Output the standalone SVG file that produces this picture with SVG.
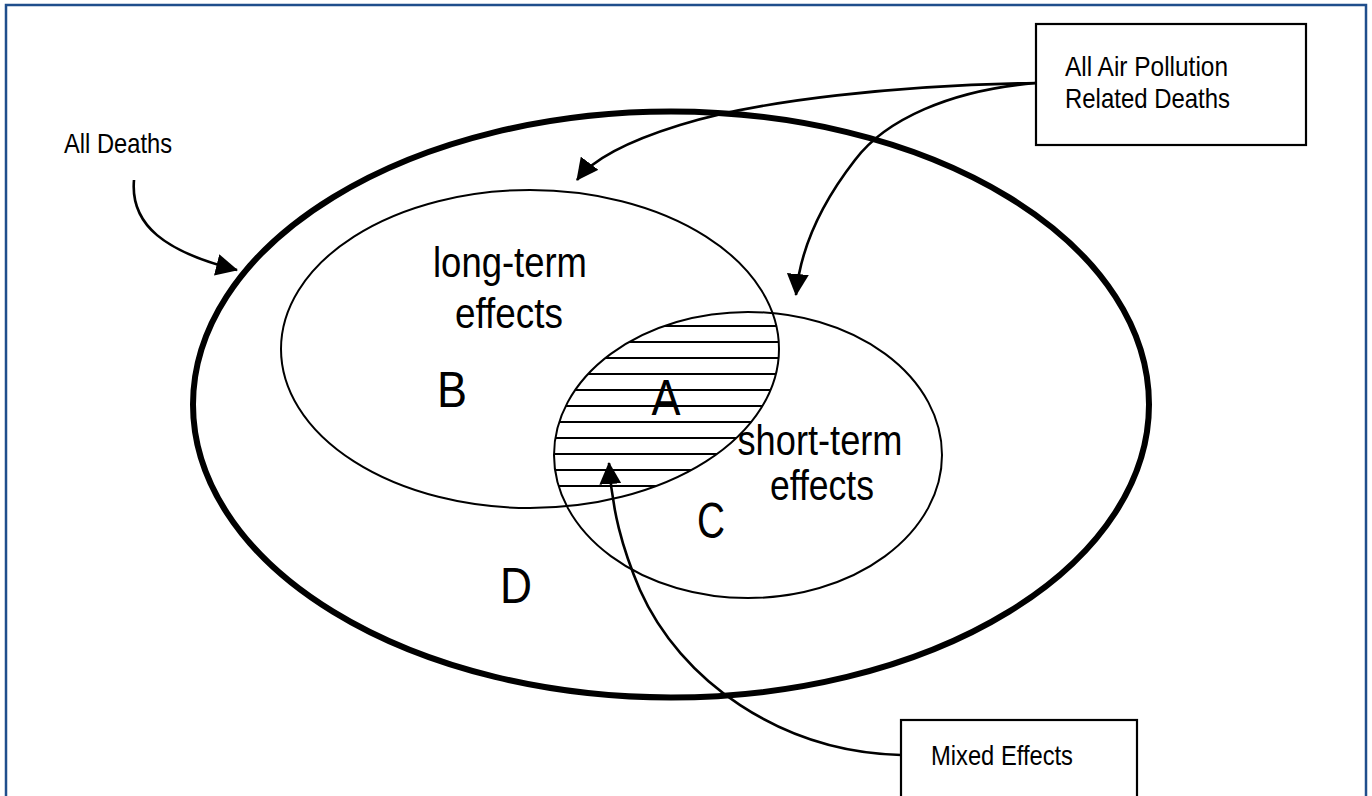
<svg xmlns="http://www.w3.org/2000/svg" width="1372" height="796" viewBox="0 0 1372 796">
  <style>
    .txt { font-family: "Liberation Sans", Arial, sans-serif; fill: #000; }
    .big { font-size: 43px; text-anchor: middle; }
    .let { font-size: 50px; text-anchor: middle; }
    .small { font-size: 28px; }
    .thin { fill: none; stroke: #000; stroke-width: 2; }
    .conn { fill: none; stroke: #000; stroke-width: 2.6; }
    .hatch line { stroke: #000; stroke-width: 2.2; }
    .box { fill: #fff; stroke: #000; stroke-width: 2.2; }
  </style>
  <defs>
    <marker id="arrow" viewBox="0 0 22 22" refX="21" refY="11" markerWidth="22" markerHeight="22" markerUnits="userSpaceOnUse" orient="auto">
      <path d="M0,0 L22,11 L0,22 Z" fill="#000"/>
    </marker>
    <clipPath id="clipL"><ellipse cx="530" cy="349" rx="249" ry="159"/></clipPath>
    <clipPath id="clipS"><ellipse cx="748" cy="455" rx="194" ry="143"/></clipPath>
  </defs>
  <rect x="0" y="0" width="1372" height="796" fill="#fff"/>
  <rect x="6" y="5" width="1360" height="810" fill="none" stroke="#1f4e8c" stroke-width="2.5"/>

  <g id="all-deaths">
    <ellipse cx="671" cy="404.5" rx="478" ry="293" fill="none" stroke="#000" stroke-width="6"/>
    <text class="txt small" x="64" y="153" textLength="108" lengthAdjust="spacingAndGlyphs">All Deaths</text>
    <text class="txt let" x="516" y="603" textLength="32" lengthAdjust="spacingAndGlyphs">D</text>
  </g>

  <g id="mixed-hatch" class="hatch" clip-path="url(#clipL)">
    <g clip-path="url(#clipS)">
      <line x1="540" y1="326" x2="800" y2="326"/>
      <line x1="540" y1="342" x2="800" y2="342"/>
      <line x1="540" y1="358" x2="800" y2="358"/>
      <line x1="540" y1="374" x2="800" y2="374"/>
      <line x1="540" y1="390" x2="800" y2="390"/>
      <line x1="540" y1="406" x2="800" y2="406"/>
      <line x1="540" y1="422" x2="800" y2="422"/>
      <line x1="540" y1="438" x2="800" y2="438"/>
      <line x1="540" y1="454" x2="800" y2="454"/>
      <line x1="540" y1="470" x2="800" y2="470"/>
      <line x1="540" y1="486" x2="800" y2="486"/>
    </g>
  </g>

  <g id="long-term">
    <ellipse class="thin" cx="530" cy="349" rx="249" ry="159"/>
    <text class="txt big" x="510" y="277" textLength="154" lengthAdjust="spacingAndGlyphs">long-term</text>
    <text class="txt big" x="509" y="328" textLength="108" lengthAdjust="spacingAndGlyphs">effects</text>
    <text class="txt let" x="452" y="407" textLength="30" lengthAdjust="spacingAndGlyphs">B</text>
  </g>

  <g id="short-term">
    <ellipse class="thin" cx="748" cy="455" rx="194" ry="143"/>
    <text class="txt big" x="820" y="455" textLength="165" lengthAdjust="spacingAndGlyphs">short-term</text>
    <text class="txt big" x="822" y="500" textLength="104" lengthAdjust="spacingAndGlyphs">effects</text>
    <text class="txt let" x="711" y="538" textLength="28" lengthAdjust="spacingAndGlyphs">C</text>
  </g>

  <g id="overlap-a">
    <text class="txt let" x="666" y="415" textLength="29" lengthAdjust="spacingAndGlyphs">A</text>
  </g>

  <g id="connectors">
    <path class="conn" d="M134,180 C130,225 165,252 237,270" marker-end="url(#arrow)"/>
    <path class="conn" d="M1036,83 C900,85 760,100 680,125 C625,142 592,160 577,180" marker-end="url(#arrow)"/>
    <path class="conn" d="M1036,83 C950,90 885,120 855,160 C820,205 800,250 796,295" marker-end="url(#arrow)"/>
    <path class="conn" d="M901,755 C780,752 680,680 640,590 C622,548 612,510 609,463" marker-end="url(#arrow)"/>
  </g>

  <g id="air-pollution-box">
    <rect class="box" x="1036" y="24" width="270" height="121"/>
    <text class="txt small" x="1065" y="76" textLength="163" lengthAdjust="spacingAndGlyphs">All Air Pollution</text>
    <text class="txt small" x="1065" y="108" textLength="165" lengthAdjust="spacingAndGlyphs">Related Deaths</text>
  </g>

  <g id="mixed-effects-box">
    <rect class="box" x="901" y="720" width="236" height="90"/>
    <text class="txt small" x="931" y="765" textLength="142" lengthAdjust="spacingAndGlyphs">Mixed Effects</text>
  </g>
</svg>
